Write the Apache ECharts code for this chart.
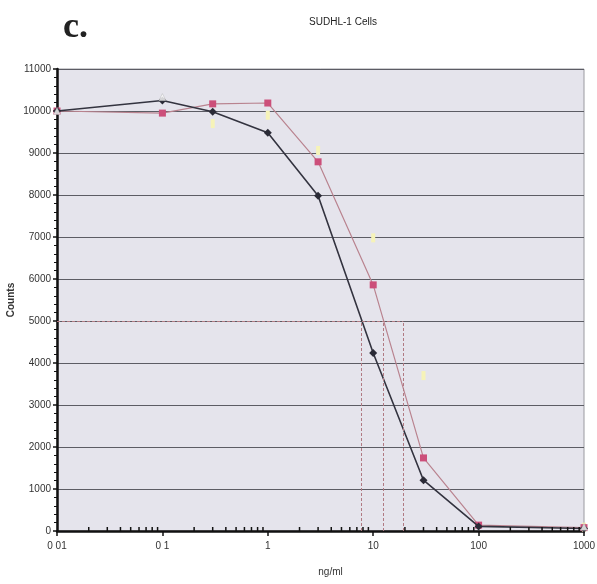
<!DOCTYPE html>
<html>
<head>
<meta charset="utf-8">
<script src="https://cdn.jsdelivr.net/npm/echarts@6/dist/echarts.min.js"></script>
<style>
html,body{margin:0;padding:0;background:#fff;}
#char{width:597px;height:584px;}
</style>
</head>
<body>
<div id="char"></div>
<script>
// concentrations (ng/ml)
var doses = [0.01, 0.1, 0.3, 1, 3, 10, 30, 100, 1000];
var darkCounts = [10000, 10250, 9980, 9480, 7980, 4240, 1210, 110, 60];
var pinkCounts = [10000, 9950, 10170, 10190, 8790, 5860, 1740, 140, 80];
var yellowCounts = [null, null, 9700, 9900, 9060, 6980, 3700, null, 90];
var whiteCounts = [10000, 10330, null, null, null, null, null, null, 100];
// half-max guide lines
var halfLevel = 5000;
var ic50 = [7.7, 12.4, 19.3];
var xLabels = {0.01: '0 01', 0.1: '0 1', 1: '1', 10: '10', 100: '100', 1000: '1000'};

var font = '"Liberation Sans Narrow", "Liberation Sans", Arial, sans-serif';

function pairs(vals) {
    var out = [];
    for (var i = 0; i < doses.length; i++) {
        if (vals[i] != null) out.push([doses[i], vals[i]]);
    }
    return out;
}

// log minor ticks 2..9 per decade
var minorX = [];
for (var d = 0.01; d < 1000; d *= 10) {
    for (var k = 2; k <= 9; k++) minorX.push([+(d * k).toPrecision(3), 0]);
}

var guideLines = [[{coord: [0.01, halfLevel]}, {coord: [ic50[2], halfLevel]}]];
ic50.forEach(function (v) {
    guideLines.push([{coord: [v, 0]}, {coord: [v, halfLevel]}]);
});

var myChart = echarts.init(document.getElementById('char'));
var option = {
    backgroundColor: '#fff',
    animation: false,
    title: [{
        text: 'SUDHL-1 Cells',
        left: 338, top: 12,
        textAlign: 'center',
        textStyle: {fontFamily: font, fontSize: 10, fontWeight: 'normal', color: '#222'}
    }, {
        text: 'c.',
        left: 58, top: 5,
        textStyle: {fontFamily: '"Liberation Serif", "DejaVu Serif", serif', fontSize: 36, fontWeight: 'bold', color: '#222'}
    }],
    grid: {left: 57, right: 13, top: 69, bottom: 53, outerBoundsMode: 'none', containLabel: false,
        show: true, backgroundColor: '#e5e4ec', borderColor: '#9a9aa0', borderWidth: 1},
    xAxis: {
        type: 'log',
        logBase: 10,
        min: 0.01,
        max: 1000,
        name: 'ng/ml',
        nameLocation: 'middle',
        nameGap: 36,
        nameMoveOverlap: false,
        nameTextStyle: {fontFamily: font, fontSize: 10, color: '#333', padding: [0, 0, 0, 20]},
        axisLine: {onZero: false, lineStyle: {color: '#111', width: 2.5}},
        axisTick: {show: true, length: 5, inside: false, lineStyle: {color: '#111', width: 1.5}},
        axisLabel: {fontFamily: font, fontSize: 10, color: '#333', margin: 10,
            formatter: function (v) { return xLabels[v] !== undefined ? xLabels[v] : ''; }},
        splitLine: {show: false}
    },
    yAxis: {
        type: 'value',
        min: 0,
        max: 11000,
        interval: 1000,
        name: 'Counts',
        nameLocation: 'middle',
        nameGap: 41,
        nameMoveOverlap: false,
        nameTextStyle: {fontFamily: font, fontSize: 10, color: '#333', fontWeight: 'bold'},
        axisLine: {show: true, lineStyle: {color: '#111', width: 2.5}},
        axisTick: {show: true, length: 4, lineStyle: {color: '#111', width: 1.5}},
        minorTick: {show: true, splitNumber: 5, length: 3, lineStyle: {color: '#111', width: 1}},
        axisLabel: {fontFamily: font, fontSize: 10, color: '#333', margin: 6,
            formatter: function (v) { return String(v); }},
        splitLine: {show: true, lineStyle: {color: '#5c5c64', width: 1.2}}
    },
    series: [
        {
            name: 'minor',
            type: 'custom',
            silent: true,
            z: 5,
            data: minorX,
            renderItem: function (params, api) {
                var p = api.coord([api.value(0), api.value(1)]);
                return {type: 'line', shape: {x1: p[0], y1: p[1] - 4, x2: p[0], y2: p[1]},
                    style: {stroke: '#111', lineWidth: 1.5}};
            }
        },
        {
            name: 'guide',
            type: 'line',
            data: [],
            markLine: {
                silent: true,
                symbol: ['none', 'none'],
                label: {show: false},
                lineStyle: {type: [3, 2], color: '#b07a82', width: 1},
                data: guideLines
            }
        },
        {
            name: 'yellow',
            type: 'line',
            data: pairs(yellowCounts),
            showSymbol: true,
            symbol: 'rect',
            symbolSize: [4, 9],
            lineStyle: {width: 0, opacity: 0},
            itemStyle: {color: '#f6f3b8'},
            connectNulls: false
        },
        {
            name: 'pink',
            type: 'line',
            data: pairs(pinkCounts),
            symbol: 'rect',
            symbolSize: 7,
            lineStyle: {color: '#b9838f', width: 1.2},
            itemStyle: {color: '#cc4f7a'},
            z: 3
        },
        {
            name: 'dark',
            type: 'line',
            data: pairs(darkCounts),
            symbol: 'diamond',
            symbolSize: 8,
            lineStyle: {color: '#33333f', width: 1.6},
            itemStyle: {color: '#2a2a36'},
            z: 4
        },
        {
            name: 'white',
            type: 'scatter',
            data: pairs(whiteCounts),
            symbol: 'triangle',
            symbolSize: 7,
            itemStyle: {color: '#ffffff', borderColor: '#aaaaaa', borderWidth: 0.5},
            z: 6
        }
    ]
};
myChart.setOption(option);
</script>
</body>
</html>
